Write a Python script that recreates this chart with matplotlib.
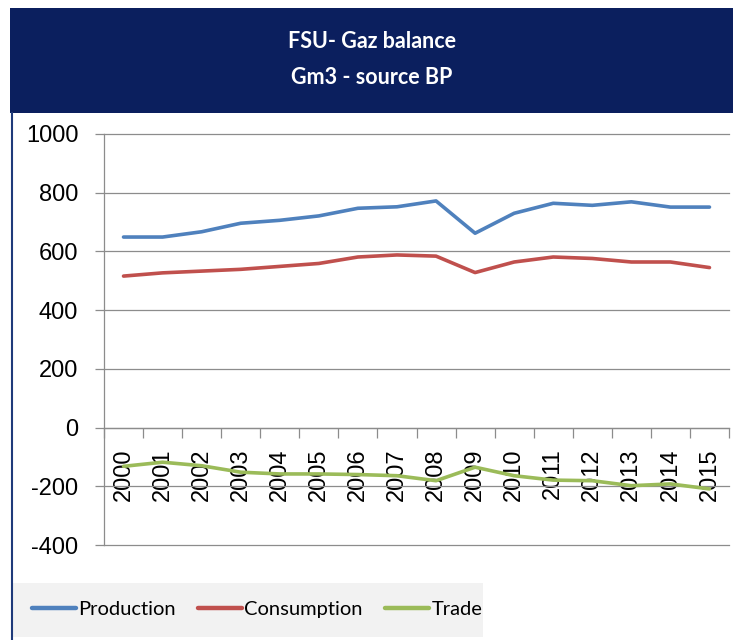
import numpy as np
import matplotlib
matplotlib.use("Agg")
import matplotlib.pyplot as plt
from matplotlib.patches import Rectangle

plt.rcParams["axes.unicode_minus"] = False

years = [str(y) for y in range(2000, 2016)]
production = [649, 649, 667, 696, 706, 721, 747, 752, 772, 662, 730, 764, 757, 769, 751, 751]
consumption = [516, 527, 533, 539, 549, 559, 581, 588, 584, 528, 564, 581, 576, 564, 564, 545]
trade = [-132, -118, -130, -152, -158, -158, -160, -164, -181, -135, -164, -179, -181, -198, -192, -209]

W, H = 733, 640
fig = plt.figure(figsize=(W / 100, H / 100), dpi=100)

# navy title banner + left border
fig.patches.append(Rectangle((10 / W, (H - 113) / H), (W - 10) / W, 105 / H,
                             transform=fig.transFigure, facecolor="#0B1F5E", edgecolor="none"))
fig.lines.append(plt.Line2D([12 / W, 12 / W], [0, (H - 113) / H], transform=fig.transFigure,
                            color="#1F3A7A", lw=1.5))
fig.text(372 / W, 1 - 42 / H, "FSU- Gaz balance", color="white", fontsize=15.5,
         fontweight="bold", family="Lato", ha="center", va="center")
fig.text(372 / W, 1 - 77 / H, "Gm3 - source BP", color="white", fontsize=15.5,
         fontweight="bold", family="Lato", ha="center", va="center")

ax = fig.add_axes([104 / W, (H - 545) / H, (729 - 104) / W, (545 - 134) / H])
x = np.arange(len(years))
ax.plot(x, production, color="#4F81BD", lw=2.6, label="Production", solid_capstyle="round")
ax.plot(x, consumption, color="#C0504D", lw=2.6, label="Consumption", solid_capstyle="round")
ax.plot(x, trade, color="#9BBB59", lw=2.6, label="Trade", solid_capstyle="round")

ax.set_xlim(-0.5, len(years) - 0.5)
ax.set_ylim(-400, 1000)
ax.set_yticks(range(-400, 1001, 200))
ax.yaxis.grid(True, color="#8C8C8C", lw=0.9)
for g in ax.get_ygridlines():
    g.set_clip_on(False)
ax.set_axisbelow(True)
ax.tick_params(axis="y", length=6.5, width=0.9, color="#8C8C8C", pad=12,
               labelsize=17, labelcolor="black", labelfontfamily="Liberation Sans")

# category boundaries as major ticks, labels on minor ticks
ax.tick_params(axis="x", which="major", direction="out", length=7, width=0.9, color="#8C8C8C",
               labelbottom=False)
ax.tick_params(axis="x", which="minor", length=0, pad=15, labelsize=17, labelrotation=90,
               labelfontfamily="Liberation Sans")
ax.set_xticks(np.arange(-0.5, len(years), 1.0))
ax.set_xticks(x, minor=True)
ax.set_xticklabels(years, minor=True)

for s in ["top", "right"]:
    ax.spines[s].set_visible(False)
ax.spines["bottom"].set_position(("data", 0))
ax.spines["bottom"].set_color("#8C8C8C")
ax.spines["left"].set_color("#8C8C8C")
ax.spines["bottom"].set_linewidth(0.9)
ax.spines["left"].set_linewidth(0.9)

# legend
fig.patches.append(Rectangle((13 / W, (H - 637) / H), 470 / W, 54 / H,
                             transform=fig.transFigure, facecolor="#F2F2F2", edgecolor="none"))
leg = fig.legend(loc="center left", bbox_to_anchor=(24 / W, 1 - 609 / H), ncol=3, frameon=False,
                 prop={"family": "Lato", "size": 14.5}, handlelength=2.2, handletextpad=0.1,
                 columnspacing=1.1, borderaxespad=0)
for l in leg.get_lines():
    l.set_linewidth(3.2)

fig.savefig("out.png", dpi=100)
